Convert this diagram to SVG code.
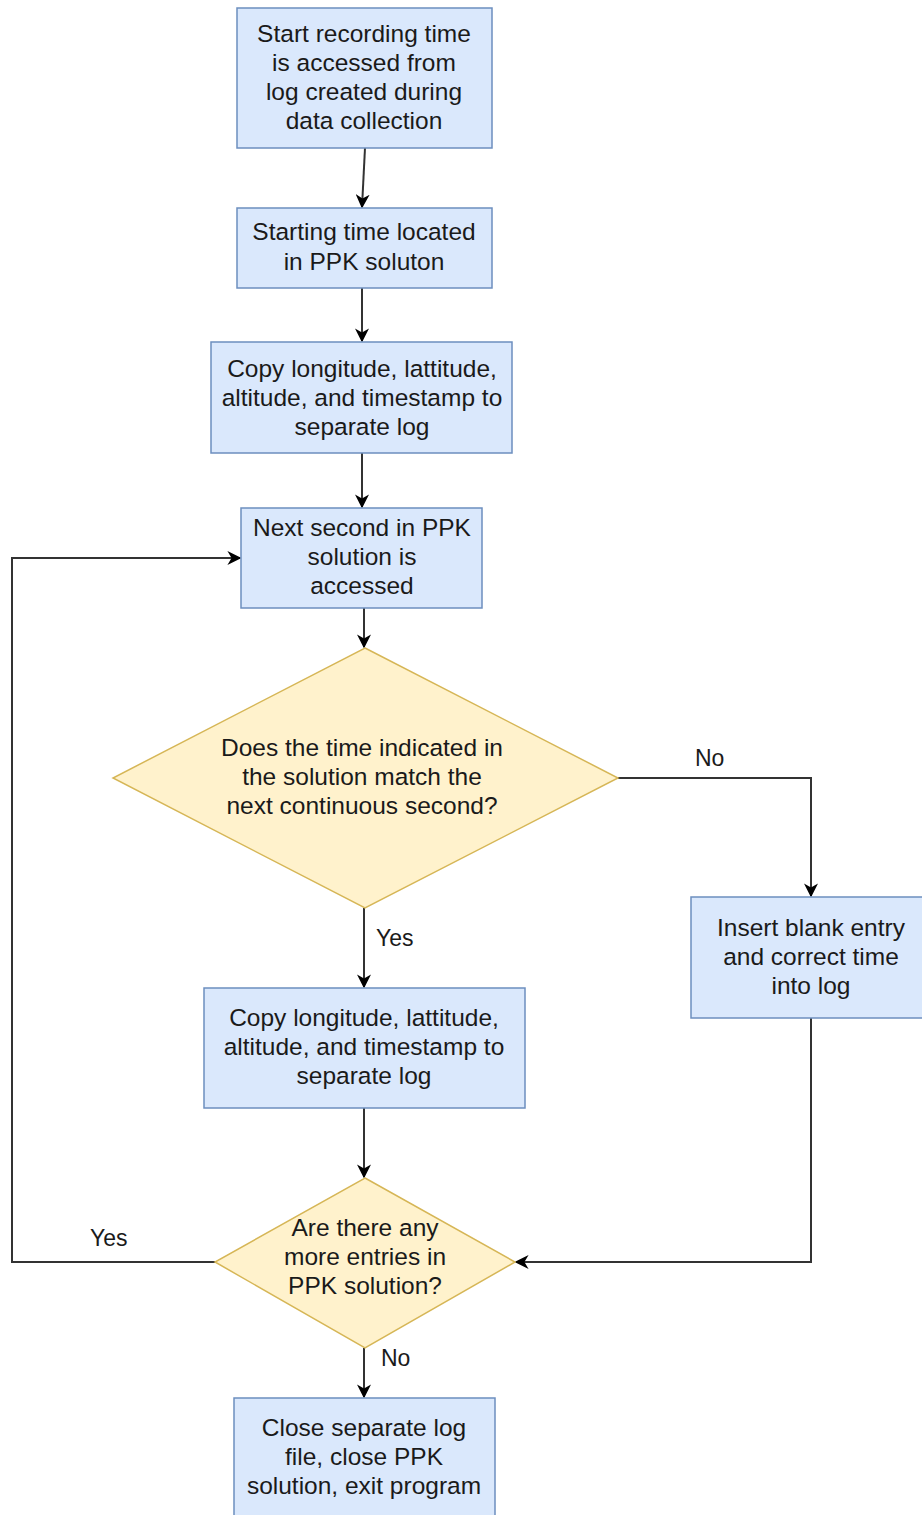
<svg xmlns="http://www.w3.org/2000/svg" width="922" height="1515" viewBox="0 0 922 1515">
<defs>
<style>
.box{fill:#dae8fc;stroke:#6c8ebf;stroke-width:1.5}
.dia{fill:#fff2cc;stroke:#d6b656;stroke-width:1.5}
.t{font-family:"Liberation Sans",Arial,sans-serif;font-size:24.5px;fill:#1a1a1a;text-anchor:middle}
.l{font-family:"Liberation Sans",Arial,sans-serif;font-size:23px;fill:#1a1a1a}
.c{fill:none;stroke:#333;stroke-width:2}
</style>
<marker id="ah" viewBox="0 0 10 10" refX="9" refY="5" markerWidth="14" markerHeight="14" markerUnits="userSpaceOnUse" orient="auto">
<path d="M0,0 L10,5 L0,10 L3,5 Z" fill="#000"/>
</marker>
</defs>
<rect width="922" height="1515" fill="#fff"/>
<g id="connectors">
<path class="c" d="M365,148 L362,207" marker-end="url(#ah)"/>
<path class="c" d="M362,288 L362,341" marker-end="url(#ah)"/>
<path class="c" d="M362,453 L362,507" marker-end="url(#ah)"/>
<path class="c" d="M364,608 L364,647" marker-end="url(#ah)"/>
<path class="c" d="M364,908 L364,987" marker-end="url(#ah)"/>
<path class="c" d="M618,778 L811,778 L811,896" marker-end="url(#ah)"/>
<path class="c" d="M811,1018 L811,1262 L516,1262" marker-end="url(#ah)"/>
<path class="c" d="M364,1108 L364,1177" marker-end="url(#ah)"/>
<path class="c" d="M215,1262 L12,1262 L12,558 L240,558" marker-end="url(#ah)"/>
<path class="c" d="M364,1348 L364,1397" marker-end="url(#ah)"/>
<text class="l" x="695" y="766">No</text>
<text class="l" x="376" y="946">Yes</text>
<text class="l" x="90" y="1246">Yes</text>
<text class="l" x="381" y="1366">No</text>
</g>
<g id="n1">
<rect class="box" x="237" y="8" width="255" height="140"/>
<text class="t" x="364" y="42">Start recording time</text>
<text class="t" x="364" y="71">is accessed from</text>
<text class="t" x="364" y="100">log created during</text>
<text class="t" x="364" y="129">data collection</text>
</g>
<g id="n2">
<rect class="box" x="237" y="208" width="255" height="80"/>
<text class="t" x="364" y="240">Starting time located</text>
<text class="t" x="364" y="270">in PPK soluton</text>
</g>
<g id="n3">
<rect class="box" x="211" y="342" width="301" height="111"/>
<text class="t" x="362" y="377">Copy longitude, lattitude,</text>
<text class="t" x="362" y="406">altitude, and timestamp to</text>
<text class="t" x="362" y="435">separate log</text>
</g>
<g id="n4">
<rect class="box" x="241" y="508" width="241" height="100"/>
<text class="t" x="362" y="536">Next second in PPK</text>
<text class="t" x="362" y="565">solution is</text>
<text class="t" x="362" y="594">accessed</text>
</g>
<g id="d1">
<polygon class="dia" points="365,648 618,778 365,908 113,778"/>
<text class="t" x="362" y="756">Does the time indicated in</text>
<text class="t" x="362" y="785">the solution match the</text>
<text class="t" x="362" y="814">next continuous second?</text>
</g>
<g id="n5">
<rect class="box" x="691" y="897" width="232" height="121"/>
<text class="t" x="811" y="936">Insert blank entry</text>
<text class="t" x="811" y="965">and correct time</text>
<text class="t" x="811" y="994">into log</text>
</g>
<g id="n6">
<rect class="box" x="204" y="988" width="321" height="120"/>
<text class="t" x="364" y="1026">Copy longitude, lattitude,</text>
<text class="t" x="364" y="1055">altitude, and timestamp to</text>
<text class="t" x="364" y="1084">separate log</text>
</g>
<g id="d2">
<polygon class="dia" points="365,1178 515,1262 365,1348 215,1262"/>
<text class="t" x="365" y="1236">Are there any</text>
<text class="t" x="365" y="1265">more entries in</text>
<text class="t" x="365" y="1294">PPK solution?</text>
</g>
<g id="n7">
<rect class="box" x="234" y="1398" width="261" height="130"/>
<text class="t" x="364" y="1436">Close separate log</text>
<text class="t" x="364" y="1465">file, close PPK</text>
<text class="t" x="364" y="1494">solution, exit program</text>
</g>
</svg>
